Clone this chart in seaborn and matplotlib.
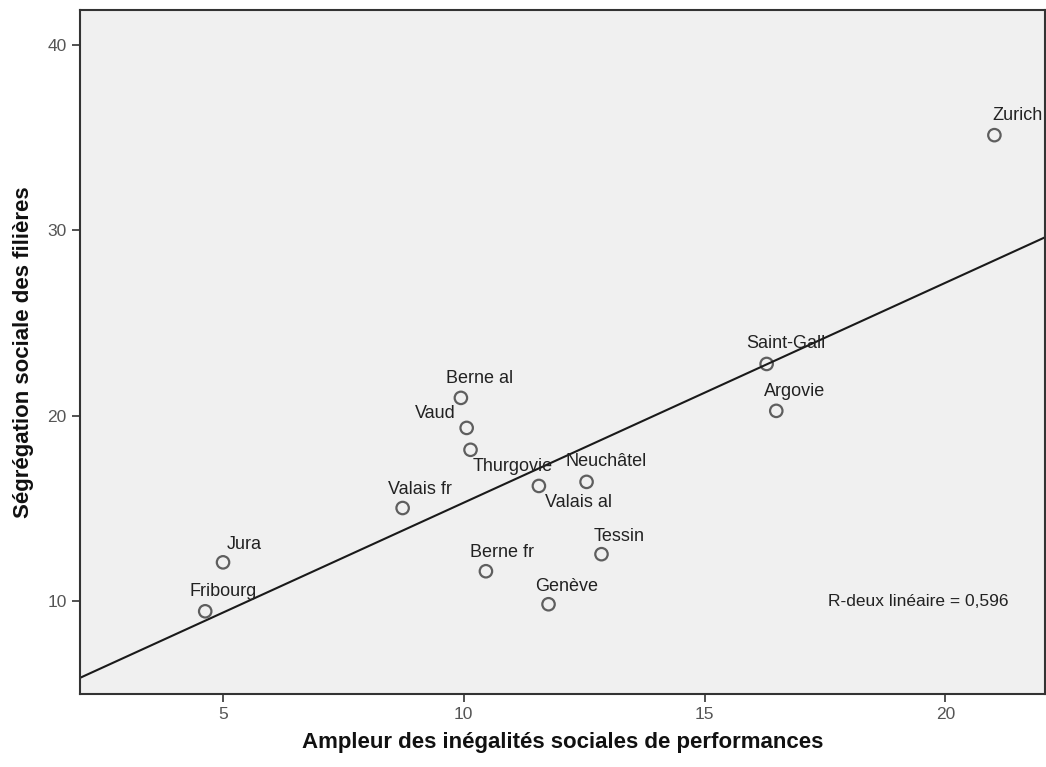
import matplotlib
matplotlib.use("Agg")
import matplotlib.pyplot as plt
import seaborn as sns
import pandas as pd

# data
cantons = ["Zurich", "Saint-Gall", "Argovie", "Berne al", "Vaud", "Thurgovie",
           "Valais al", "Neuchâtel", "Valais fr", "Jura", "Fribourg",
           "Berne fr", "Tessin", "Genève"]
inegalites = [21.02, 16.29, 16.49, 9.94, 10.06, 10.14,
              11.56, 12.55, 8.73, 5.0, 4.63,
              10.46, 12.86, 11.76]
segregation = [35.14, 22.8, 20.27, 20.97, 19.35, 18.17,
               16.22, 16.44, 15.03, 12.1, 9.46,
               11.62, 12.54, 9.84]
# label offsets in pixels (dx, dy)
offsets = [(-2, 20), (-20, 20), (-12, 19), (-15, 19), (-52, 14), (2, -17),
           (6, -17), (-21, 20), (-15, 19), (4, 18), (-16, 20),
           (-16, 19), (-8, 18), (-13, 18)]

df = pd.DataFrame({"canton": cantons, "x": inegalites, "y": segregation})

sns.set_style("ticks")
plt.rcParams["font.family"] = ["Liberation Sans", "DejaVu Sans"]

fig = plt.figure(figsize=(10.46, 7.67), dpi=100)
ax = fig.add_axes([0.0765, 0.0952, 0.9225, 0.892])
ax.set_facecolor("#f0f0f0")
ax.set_xlim(2.03, 22.07)
ax.set_ylim(5.0, 41.9)

sns.regplot(data=df, x="x", y="y", ax=ax, ci=None, truncate=False,
            scatter_kws=dict(s=80, facecolors="none", edgecolors="#3a3a3a", linewidths=1.6),
            line_kws=dict(color="#1a1a1a", lw=1.5))

for (name, xv, yv), (dx, dy) in zip(zip(cantons, inegalites, segregation), offsets):
    ax.annotate(name, (xv, yv), xytext=(dx, dy), textcoords="offset pixels",
                ha="left", va="center", fontsize=13, color="#222222")

ax.text(17.57, 10.0, "R-deux linéaire = 0,596", fontsize=12.5, color="#222222",
        ha="left", va="center")

ax.set_xticks([5, 10, 15, 20])
ax.set_yticks([10, 20, 30, 40])
ax.tick_params(axis="both", direction="out", length=6, width=1.2, colors="#333333",
               labelsize=12.5, labelcolor="#555555")
for sp in ax.spines.values():
    sp.set_visible(True)
    sp.set_color("#333333")
    sp.set_linewidth(1.5)

ax.set_xlabel("Ampleur des inégalités sociales de performances",
              fontsize=16, fontweight="bold", color="#111111", labelpad=7)
ax.set_ylabel("Ségrégation sociale des filières",
              fontsize=16, fontweight="bold", color="#111111", labelpad=10)

fig.savefig("out.png", dpi=100)
